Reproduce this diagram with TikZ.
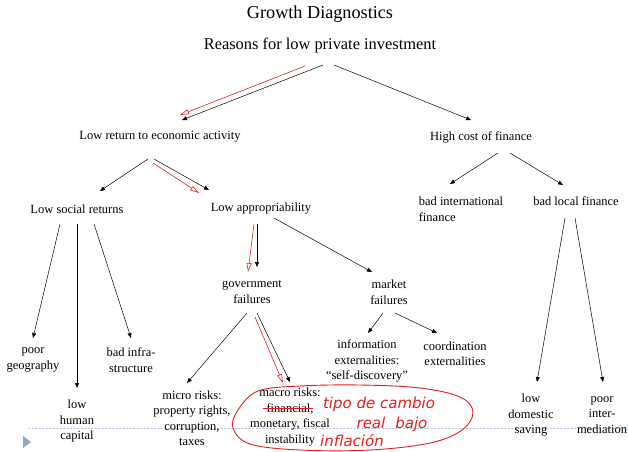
\documentclass[tikz,border=0pt]{standalone}
\usepackage{fontspec}
\setmainfont{Liberation Serif}
\newfontfamily\handfont{DejaVu Sans}
\usetikzlibrary{arrows.meta,calc}

\definecolor{penred}{RGB}{226,30,30}
\definecolor{slideblue}{RGB}{141,169,201}

\begin{document}
\begin{tikzpicture}[x=1pt,y=-1pt,
    every node/.style={inner sep=1pt, align=center, font=\fontsize{12.5}{15.5}\selectfont},
    arr/.style={-{Triangle[length=5pt,width=4pt]}, line width=0.5pt},
    redarr/.style={penred, -{Triangle[open,length=9pt,width=5pt]}, line width=0.6pt},
    hand/.style={penred, font=\handfont\itshape\fontsize{15}{17}\selectfont}]
  \useasboundingbox (0,0) rectangle (628,451);

  % slide rule and marker
  \draw[slideblue!70, dashed, dash pattern=on 2pt off 1.5pt, line width=0.6pt] (28,428) -- (628,428);
  \fill[slideblue] (23,436) -- (31,442) -- (23,448) -- cycle;

  \node (title) at (320,14) {\fontsize{18.2}{20}\selectfont Growth Diagnostics};
  \node (invest) at (320,45) {\fontsize{16.4}{18}\selectfont Reasons for low private investment};

  \node (lowret) at (160,137) {Low return to economic activity};
  \node (highcost) at (481,137) {High cost of finance};

  \node (social) at (77,209) {Low social returns};
  \node (approp) at (261,209) {Low appropriability};
  \node[align=left] (intl) at (461,209) {bad international\\finance};
  \node (local) at (576,201) {bad local finance};

  \node (geog) at (33,360) {poor\\geography};
  \node (infra) at (131,360) {bad infra-\\structure};
  \node (human) at (77,421) {low\\human\\capital};

  \node (gov) at (252,292) {government\\failures};
  \node (market) at (389,292) {market\\failures};
  \node (info) at (367,361) {information\\externalities:\\``self-discovery''};
  \node (coord) at (455,353.5) {coordination\\externalities};

  \node (micro) at (192,418) {micro risks:\\property rights,\\corruption,\\taxes};
  \node (macro) at (290,417) {macro risks:\\financial,\\monetary, fiscal\\instability};

  \node (saving) at (531,415) {low\\domestic\\saving};
  \node (intermed) at (602,415) {poor\\inter-\\mediation};

  \draw[arr] ($(invest)+(3,20)$) -- ($(lowret)+(22,-17)$);
  \draw[redarr] ($(invest)+(-15,21)$) -- ($(lowret)+(20,-22)$);
  \draw[arr] ($(invest)+(14,20)$) -- ($(highcost)+(-10,-17)$);

  \draw[arr] ($(lowret)+(-12,22)$) -- ($(social)+(23,-18)$);
  \draw[arr] ($(lowret)+(-6,22)$) -- ($(approp)+(-52,-19)$);
  \draw[redarr] ($(lowret)+(-7,26)$) -- ($(approp)+(-62,-16)$);

  \draw[arr] ($(highcost)+(17,16)$) -- ($(intl)+(-11,-25)$);
  \draw[arr] ($(highcost)+(29,16)$) -- ($(local)+(-13,-16)$);

  \draw[arr] ($(social)+(-17,15)$) -- ($(geog)+(0,-22)$);
  \draw[arr] ($(social)+(0,15)$) -- ($(human)+(0,-33)$);
  \draw[arr] ($(social)+(17,15)$) -- ($(infra)+(0,-22)$);

  \draw[arr] ($(approp)+(-4,15)$) -- ($(gov)+(5,-25)$);
  \draw[redarr] ($(approp)+(-7,15)$) -- ($(gov)+(-4,-20)$);
  \draw[arr] ($(approp)+(13,9)$) -- ($(market)+(-17,-20)$);

  \draw[arr] ($(gov)+(-5,21)$) -- ($(micro)+(-5,-35)$);
  \draw[arr] ($(gov)+(5,21)$) -- ($(macro)+(0,-35)$);
  \draw[redarr] ($(gov)+(3,25)$) -- ($(macro)+(-7,-34)$);

  \draw[arr] ($(market)+(-6,21)$) -- ($(info)+(1,-28)$);
  \draw[arr] ($(market)+(6,21)$) -- ($(coord)+(-18,-20.5)$);

  \draw[arr] ($(local)+(-11,17)$) -- ($(saving)+(6,-33)$);
  \draw[arr] ($(local)+(-1,17)$) -- ($(intermed)+(1,-33)$);

  % hand-written notes
  \draw[penred, line width=0.9pt] (263,408) -- (313,408);
  \draw[penred, line width=0.9pt] plot[smooth cycle, tension=0.6] coordinates {
    (258,391) (300,386) (360,385) (420,388) (460,397) (473,412) (462,430)
    (430,443) (370,450) (300,450) (250,444) (233,428) (238,410)};
  \node[hand] (hwa) at (379,404) {tipo de cambio};
  \node[hand] (hwb) at (392,424) {real\hspace{10pt}bajo};
  \node[hand] (hwc) at (352,441) {inflación};
\end{tikzpicture}
\end{document}
